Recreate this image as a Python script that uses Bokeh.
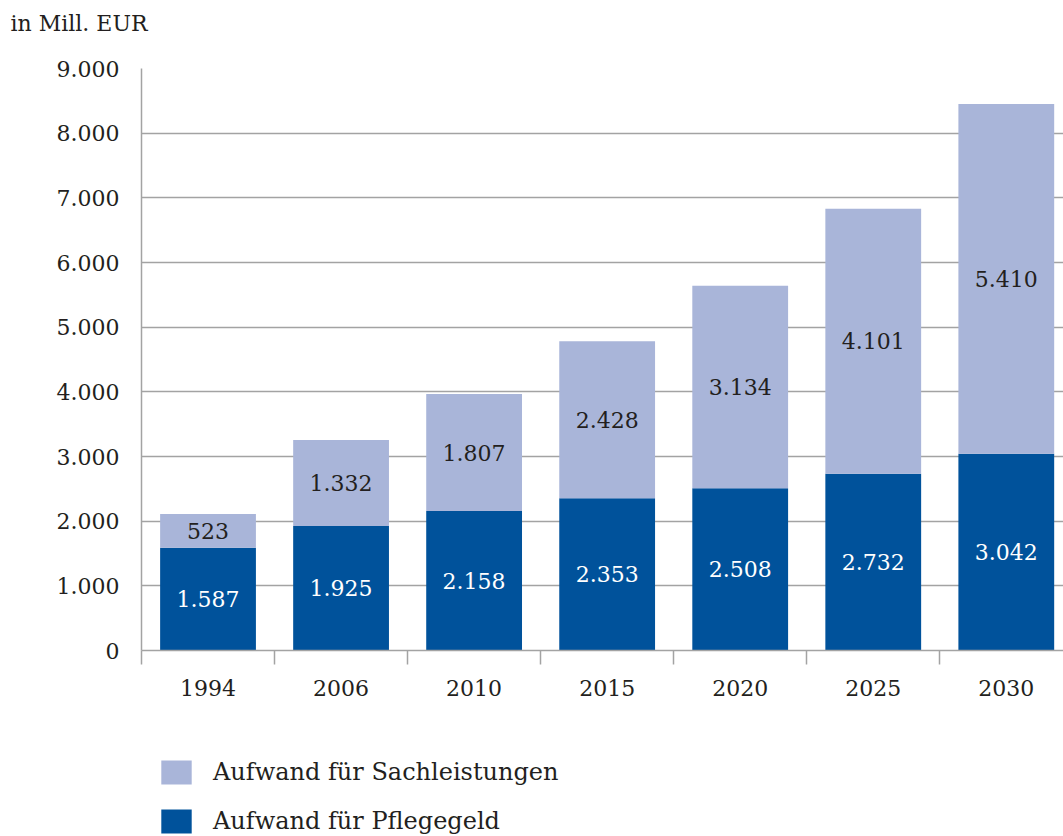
import numpy as np
from bokeh.plotting import figure
from bokeh.layouts import column
from bokeh.models import (ColumnDataSource, Range1d, FixedTicker, Legend, LegendItem, Title)
from bokeh.core.properties import value
from bokeh.embed import file_html
from bokeh.resources import INLINE

# ---- data ----
years = ["1994", "2006", "2010", "2015", "2020", "2025", "2030"]
pflegegeld = [1587, 1925, 2158, 2353, 2508, 2732, 3042]
sachleistungen = [523, 1332, 1807, 2428, 3134, 4101, 5410]
y_ticks = [0, 1000, 2000, 3000, 4000, 5000, 6000, 7000, 8000, 9000]
unit_label = "in Mill. EUR"
series_names = ["Aufwand für Sachleistungen", "Aufwand für Pflegegeld"]

DARK = "#00529B"
LIGHT = "#A9B5D9"
GRID = "#A3A3A3"
TXT = "#231F20"
FONT = "DejaVu Serif"


def de(v):
    return f"{v:,}".replace(",", ".")


x = np.arange(len(years)) + 0.5
pf = np.array(pflegegeld, dtype=float)
sa = np.array(sachleistungen, dtype=float)

src = ColumnDataSource(dict(
    x=x, pflege=pf, sach=sa,
    pf_y=pf / 2, sa_y=pf + sa / 2,
    pf_t=[de(v) for v in pflegegeld], sa_t=[de(v) for v in sachleistungen],
))

p = figure(width=1063, height=720, output_backend="svg", toolbar_location=None,
           x_range=Range1d(0, 6.93), y_range=Range1d(0, 9000),
           min_border_left=141, min_border_right=0, min_border_top=68,
           min_border_bottom=70)
p.outline_line_color = None
p.background_fill_color = "white"
p.border_fill_color = "white"

# unit label (outer) + spacer (inner, next to the frame)
p.title.text = unit_label
p.title.align = "left"
p.title.offset = -131
p.title.text_font = FONT
p.title.text_font_size = "22px"
p.title.text_font_style = "normal"
p.title.text_color = TXT
p.add_layout(Title(text=" ", text_font_size="14px"), "above")

rs = p.vbar_stack(["pflege", "sach"], x="x", width=0.72, source=src,
                  color=[DARK, LIGHT], line_color=None)

p.text(x="x", y="pf_y", text="pf_t", source=src, text_color="white",
       text_font=value(FONT), text_font_size="22px",
       text_align="center", text_baseline="middle")
p.text(x="x", y="sa_y", text="sa_t", source=src, text_color=TXT,
       text_font=value(FONT), text_font_size="22px",
       text_align="center", text_baseline="middle")

# y axis
p.yaxis.ticker = FixedTicker(ticks=y_ticks)
p.yaxis.major_label_overrides = {t: de(t) for t in y_ticks}
p.yaxis.major_tick_out = 0
p.yaxis.major_tick_in = 0
p.yaxis.minor_tick_out = 0
p.yaxis.minor_tick_in = 0
p.yaxis.axis_line_color = GRID
p.yaxis.axis_line_width = 1.5
p.yaxis.major_label_standoff = 22
p.yaxis.major_label_text_font = FONT
p.yaxis.major_label_text_font_size = "22px"
p.yaxis.major_label_text_color = TXT

# x axis: labels at centres, tick marks between categories
bounds = list(np.arange(len(years) + 1))
p.xaxis.ticker = FixedTicker(ticks=list(x), minor_ticks=bounds)
p.xaxis.major_label_overrides = {float(c): y for c, y in zip(x, years)}
p.xaxis.major_tick_out = 0
p.xaxis.major_tick_in = 0
p.xaxis.minor_tick_out = 14
p.xaxis.minor_tick_in = 0
p.xaxis.minor_tick_line_color = GRID
p.xaxis.minor_tick_line_width = 1.5
p.xaxis.axis_line_color = GRID
p.xaxis.axis_line_width = 1.5
p.xaxis.major_label_standoff = 15
p.xaxis.major_label_text_font = FONT
p.xaxis.major_label_text_font_size = "22px"
p.xaxis.major_label_text_color = TXT

p.xgrid.grid_line_color = None
p.ygrid.ticker = FixedTicker(ticks=y_ticks)
p.ygrid.grid_line_color = GRID
p.ygrid.grid_line_width = 1.5

# ---- legend figure (hidden proxies built from the same series) ----
p2 = figure(width=1063, height=116, output_backend="svg", toolbar_location=None,
            x_range=Range1d(0, 1), y_range=Range1d(0, 1),
            x_axis_location=None, y_axis_location=None,
            min_border_left=0, min_border_right=0, min_border_top=0,
            min_border_bottom=0)
p2.outline_line_color = None
p2.grid.visible = False
r_sach = p2.vbar(x=x, top=sa, width=0.72, fill_color=LIGHT, line_color=None, visible=False)
r_pf = p2.vbar(x=x, top=pf, width=0.72, fill_color=DARK, line_color=None, visible=False)

legend = Legend(items=[LegendItem(label=series_names[0], renderers=[r_sach]),
                       LegendItem(label=series_names[1], renderers=[r_pf])],
                location=(16, 0), orientation="vertical",
                glyph_width=38, glyph_height=30, label_height=24,
                label_standoff=18, spacing=19, padding=0, margin=0,
                border_line_color=None, background_fill_alpha=0,
                label_text_font=FONT, label_text_font_size="24px",
                label_text_color=TXT, label_text_baseline="middle")
p2.add_layout(legend, "center")

layout = column(p, p2, spacing=0)
open("out.html", "w").write(file_html(layout, INLINE))
